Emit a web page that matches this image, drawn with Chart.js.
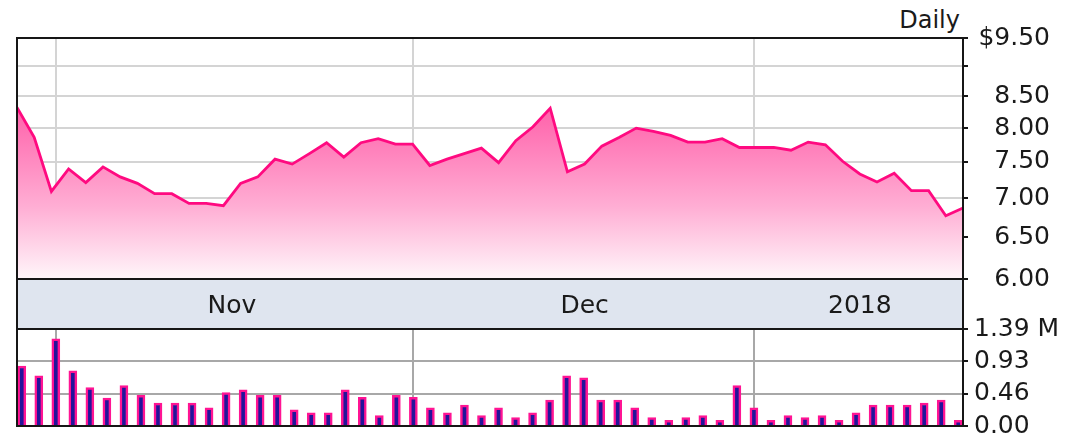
<!DOCTYPE html>
<html>
<head>
<meta charset="utf-8">
<script src="https://cdn.jsdelivr.net/npm/chart.js@4.4.1/dist/chart.umd.min.js"></script>
<style>
  html, body { margin: 0; padding: 0; background: #fff; }
  #wrap { position: relative; width: 1084px; height: 447px; overflow: hidden; font-family: "DejaVu Sans", Verdana, sans-serif; }
  #daily { position: absolute; right: 124px; top: 6px; font-size: 24px; line-height: 28px; color: #1a1a1a; }
</style>
</head>
<body>
<div id="wrap">
  <div id="daily">Daily</div>
  <canvas id="priceChart" width="1084" height="329" style="position:absolute;left:0;top:0"></canvas>
  <canvas id="volumeChart" width="1084" height="157" style="position:absolute;left:0;top:290px"></canvas>
</div>
<script>
// trading days shown on the chart
var dates = [
  '2017-10-30', '2017-10-31',
  '2017-11-01', '2017-11-02', '2017-11-03', '2017-11-06', '2017-11-07', '2017-11-08', '2017-11-09',
  '2017-11-10', '2017-11-13', '2017-11-14', '2017-11-15', '2017-11-16', '2017-11-17', '2017-11-20',
  '2017-11-21', '2017-11-22', '2017-11-24', '2017-11-27', '2017-11-28', '2017-11-29', '2017-11-30',
  '2017-12-01', '2017-12-04', '2017-12-05', '2017-12-06', '2017-12-07', '2017-12-08', '2017-12-11',
  '2017-12-12', '2017-12-13', '2017-12-14', '2017-12-15', '2017-12-18', '2017-12-19', '2017-12-20',
  '2017-12-21', '2017-12-22', '2017-12-26', '2017-12-27', '2017-12-28', '2017-12-29',
  '2018-01-02', '2018-01-03', '2018-01-04', '2018-01-05', '2018-01-08', '2018-01-09', '2018-01-10',
  '2018-01-11', '2018-01-12', '2018-01-16', '2018-01-17', '2018-01-18', '2018-01-19'
];

// closing price, $
var prices = [
  8.32, 7.86,
  7.09, 7.40, 7.21, 7.43, 7.29, 7.20, 7.06, 7.06, 6.93, 6.93, 6.90, 7.20, 7.29, 7.54,
  7.47, 7.62, 7.78, 7.57, 7.78, 7.84, 7.76,
  7.76, 7.45, 7.54, 7.62, 7.70, 7.49, 7.81, 8.02, 8.31, 7.36, 7.47, 7.73, 7.86, 8.00,
  7.95, 7.89, 7.79, 7.79, 7.84, 7.71,
  7.71, 7.71, 7.67, 7.79, 7.75, 7.51, 7.33, 7.22, 7.34, 7.10, 7.10, 6.77, 6.87
];

// volume, millions
var volumes = [
  0.86, 0.72,
  1.25, 0.79, 0.55, 0.40, 0.58, 0.44, 0.33, 0.33, 0.33, 0.26, 0.48, 0.52, 0.44, 0.44,
  0.23, 0.19, 0.19, 0.52, 0.41, 0.15, 0.44,
  0.41, 0.26, 0.19, 0.30, 0.15, 0.26, 0.12, 0.19, 0.37, 0.72, 0.69, 0.37, 0.37, 0.26,
  0.12, 0.08, 0.12, 0.15, 0.08, 0.58,
  0.26, 0.08, 0.15, 0.12, 0.15, 0.08, 0.19, 0.30, 0.30, 0.30, 0.33, 0.37, 0.08
];

var priceTicks = [6.00, 6.50, 7.00, 7.50, 8.00, 8.50, 9.00, 9.50];
var hiddenPriceLabels = [9.00];
var volumeTicks = [0, 0.46, 0.93, 1.39];
var monthLabels = ['Nov', 'Dec', '2018'];

// first trading day of each month, and middle of each month span for the labels
var monthStarts = [];
for (var i = 1; i < dates.length; i++) {
  if (dates[i].slice(0, 7) !== dates[i - 1].slice(0, 7)) monthStarts.push(i);
}
var monthMids = monthStarts.map(function (s, k) {
  var end = k + 1 < monthStarts.length ? monthStarts[k + 1] : dates.length - 1;
  return (s + end) / 2;
});

var lastIdx = dates.length - 1;
var barPad = 0.28;
var bandHeight = 50;
var tickFont = { family: 'DejaVu Sans', size: 25 };
var textColor = '#1a1a1a';

var priceFrame = {
  id: 'priceFrame',
  beforeDraw: function (chart) {
    var c = chart.ctx, a = chart.chartArea;
    c.save();
    c.fillStyle = '#dfe5ef';
    c.fillRect(a.left, a.bottom, a.right - a.left, bandHeight);
    c.restore();
  },
  afterDraw: function (chart) {
    var c = chart.ctx, a = chart.chartArea;
    c.save();
    c.strokeStyle = '#161616';
    c.lineWidth = 2;
    c.strokeRect(a.left, a.top, a.right - a.left, a.bottom - a.top);
    c.strokeRect(a.left, a.bottom, a.right - a.left, bandHeight);
    c.restore();
  }
};

var volumeFrame = {
  id: 'volumeFrame',
  afterDraw: function (chart) {
    var c = chart.ctx, a = chart.chartArea;
    c.save();
    c.strokeStyle = '#161616';
    c.lineWidth = 2;
    c.strokeRect(a.left, a.top, a.right - a.left, a.bottom - a.top);
    c.restore();
  }
};

var priceChart = new Chart(document.getElementById('priceChart'), {
  type: 'line',
  data: {
    datasets: [{
      data: prices.map(function (p, i) { return { x: i, y: p }; }),
      borderColor: '#ff0a80',
      borderWidth: 2.8,
      pointRadius: 0,
      tension: 0,
      fill: 'start',
      backgroundColor: function (ctx) {
        var area = ctx.chart.chartArea;
        if (!area) return 'rgba(255,80,160,0.5)';
        var g = ctx.chart.ctx.createLinearGradient(0, area.top, 0, area.bottom);
        g.addColorStop(0, '#ff3b95');
        g.addColorStop(0.35, '#ff6cb0');
        g.addColorStop(0.7, '#ffaed4');
        g.addColorStop(1, '#fff6fa');
        return g;
      }
    }]
  },
  options: {
    responsive: false,
    animation: false,
    devicePixelRatio: 1,
    layout: { padding: { left: 17, top: 38, right: 34, bottom: 0 } },
    plugins: { legend: { display: false }, tooltip: { enabled: false } },
    scales: {
      x: {
        type: 'linear',
        position: 'bottom',
        min: 0,
        max: lastIdx,
        afterBuildTicks: function (scale) {
          scale.ticks = monthMids.map(function (v) { return { value: v }; });
        },
        afterFit: function (scale) { scale.height = bandHeight; },
        grid: { display: false },
        border: { display: false },
        ticks: {
          autoSkip: false,
          maxRotation: 0,
          padding: 4,
          font: tickFont,
          color: textColor,
          callback: function (v, idx) { return monthLabels[idx]; }
        }
      },
      xg: {
        type: 'linear',
        position: 'top',
        min: -barPad,
        max: lastIdx + barPad,
        afterBuildTicks: function (scale) {
          scale.ticks = monthStarts.map(function (v) { return { value: v }; });
        },
        afterFit: function (scale) { scale.height = 0; },
        grid: { color: '#d4d4d4', lineWidth: 2, drawTicks: false },
        border: { display: false },
        ticks: { display: false }
      },
      y: {
        type: 'logarithmic',
        position: 'right',
        min: priceTicks[0],
        max: priceTicks[priceTicks.length - 1],
        afterBuildTicks: function (scale) {
          scale.ticks = priceTicks.map(function (v) { return { value: v }; });
        },
        afterFit: function (scale) { scale.width = 87; },
        grid: { color: '#d4d4d4', lineWidth: 2, tickColor: '#161616', tickLength: 5 },
        border: { display: false },
        ticks: {
          crossAlign: 'far',
          padding: 10,
          font: tickFont,
          color: textColor,
          callback: function (v) {
            if (hiddenPriceLabels.indexOf(v) >= 0) return '';
            var s = Number(v).toFixed(2);
            return v === priceTicks[priceTicks.length - 1] ? '$' + s : s;
          }
        }
      }
    }
  },
  plugins: [priceFrame]
});

var volumeChart = new Chart(document.getElementById('volumeChart'), {
  type: 'bar',
  data: {
    datasets: [{
      data: volumes.map(function (v, i) { return { x: i, y: v }; }),
      backgroundColor: '#23149a',
      borderColor: '#ff1493',
      borderWidth: 2.5,
      barThickness: 8
    }]
  },
  options: {
    responsive: false,
    animation: false,
    devicePixelRatio: 1,
    layout: { padding: { left: 17, top: 39, right: 0, bottom: 14 } },
    plugins: { legend: { display: false }, tooltip: { enabled: false } },
    scales: {
      x: {
        type: 'linear',
        offset: false,
        min: -barPad,
        max: lastIdx + barPad,
        afterBuildTicks: function (scale) {
          scale.ticks = monthStarts.map(function (v) { return { value: v }; });
        },
        afterFit: function (scale) { scale.height = 0; },
        grid: { color: '#a8a8a8', lineWidth: 2, drawTicks: false, offset: false },
        border: { display: false },
        ticks: { display: false }
      },
      y: {
        position: 'right',
        min: volumeTicks[0],
        max: volumeTicks[volumeTicks.length - 1],
        afterBuildTicks: function (scale) {
          scale.ticks = volumeTicks.map(function (v) { return { value: v }; });
        },
        afterFit: function (scale) { scale.width = 121; },
        grid: { color: '#a8a8a8', lineWidth: 2, tickColor: '#161616', tickLength: 5 },
        border: { display: false },
        ticks: {
          crossAlign: 'near',
          padding: 6,
          font: tickFont,
          color: textColor,
          callback: function (v) {
            var s = Number(v).toFixed(2);
            return v === volumeTicks[volumeTicks.length - 1] ? s + ' M' : s;
          }
        }
      }
    }
  },
  plugins: [volumeFrame]
});
</script>
</body>
</html>
